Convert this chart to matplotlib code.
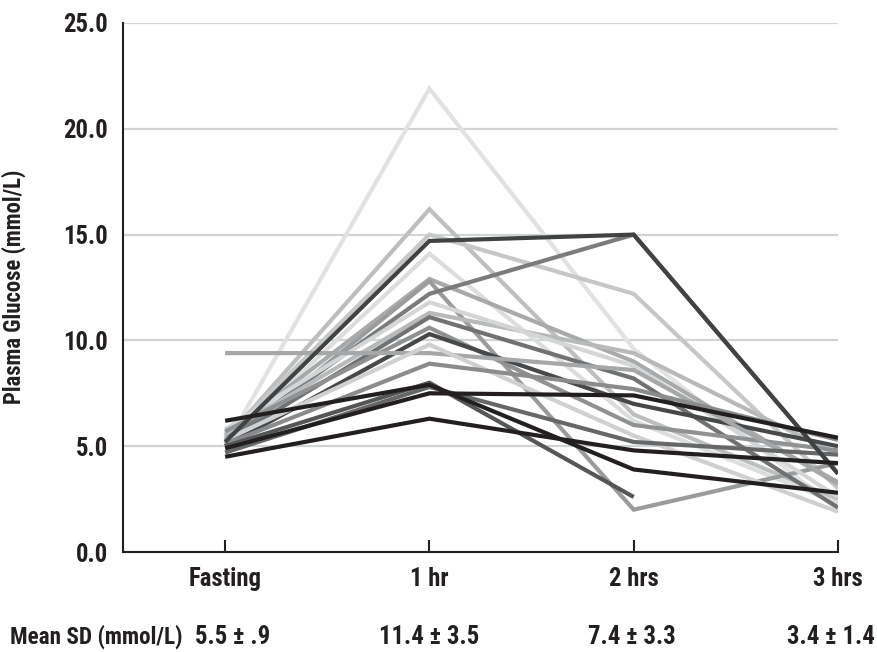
import matplotlib
matplotlib.use("Agg")
import matplotlib.pyplot as plt
from matplotlib import font_manager as fm
import numpy as np

categories = ["Fasting", "1 hr", "2 hrs", "3 hrs"]
summary_title = "Mean SD (mmol/L)"
summary_labels = ["5.5 \u00b1 .9", "11.4 \u00b1 3.5", "7.4 \u00b1 3.3", "3.4 \u00b1 1.4"]
y_ticks = [0.0, 5.0, 10.0, 15.0, 20.0, 25.0]
y_label = "Plasma Glucose (mmol/L)"

# individual subject curves (fasting, 1 hr, 2 hrs, 3 hrs)
s01 = [5.0, 21.9, 9.6, 2.0]
s02 = [5.3, 16.2, 6.5, 2.5]
s03 = [5.4, 15.0, 12.2, 3.0]
s04 = [5.1, 14.1, 6.2, 2.3]
s05 = [5.5, 12.9, 9.0, 3.2]
s06 = [5.0, 12.8, 2.0, 4.2]
s07 = [5.3, 12.2, 15.0, 3.7]
s08 = [5.6, 11.3, 9.4, 4.6]
s09 = [5.2, 11.1, 8.2, 2.1]
s10 = [5.8, 11.8, 8.8, 2.6]
s11 = [5.7, 10.6, 6.0, 4.8]
s12 = [5.0, 10.3, 7.0, 5.0]
s13 = [9.4, 9.4, 8.6, 3.3]
s14 = [5.3, 9.8, 5.5, 1.9]
s15 = [5.1, 8.9, 7.7, 5.3]
s16 = [4.7, 7.8, 5.2, 4.6]
s17 = [5.0, 8.0, 2.6, np.nan]
s18 = [5.2, 14.7, 15.0, 3.7]
s19 = [6.2, 7.9, 3.9, 2.8]
s20 = [4.9, 7.5, 7.4, 5.4]
s21 = [4.5, 6.3, 4.8, 4.2]

series = [s01, s02, s03, s04, s05, s06, s07, s08, s09, s10, s11,
          s12, s13, s14, s15, s16, s17, s18, s19, s20, s21]
colors = ["#e1e2e3", "#bdbebf", "#c6c7c8", "#dcdddd", "#a8a9aa", "#9a9b9c",
          "#7a7b7c", "#b8b9ba", "#707172", "#d4d5d6", "#909192", "#474849",
          "#a6a7a8", "#cfd0d1", "#8a8b8c", "#666768", "#555657", "#414244",
          "#231f20", "#231f20", "#231f20"]

TXT = "#231f20"

# ---- choose a condensed bold font if one is installed ----
def pick_font():
    best = None
    best_score = -1
    for f in fm.fontManager.ttflist:
        name = f.name
        st = f.stretch
        if isinstance(st, str):
            st_val = {'ultra-condensed': 100, 'extra-condensed': 200, 'condensed': 300,
                      'semi-condensed': 400, 'normal': 500}.get(st, 500)
        else:
            st_val = st
        cond = ('Condensed' in name or 'Narrow' in name or st_val < 500
                or 'Condensed' in f.fname or 'Narrow' in f.fname)
        if not cond:
            continue
        w = f.weight
        if isinstance(w, str):
            w = {'bold': 700, 'semibold': 600, 'demibold': 600, 'heavy': 800,
                 'black': 900, 'normal': 400, 'regular': 400, 'medium': 500}.get(w, 400)
        if 'Italic' in f.fname or 'Oblique' in f.fname or f.style != 'normal':
            continue
        score = 0
        if w >= 700:
            score += 10
        elif w >= 600:
            score += 6
        if 'Roboto' in name:
            score += 3
        if 'Liberation' in name:
            score += 2
        if score > best_score:
            best_score = score
            best = f
    return best

bf = pick_font()
if bf is not None:
    def FP(size):
        return fm.FontProperties(fname=bf.fname, size=size)
else:
    def FP(size):
        return fm.FontProperties(family='DejaVu Sans', weight='bold', stretch='condensed', size=size)

fig = plt.figure(figsize=(8.78, 6.52), dpi=100)
renderer = fig.canvas.get_renderer()

def fit_size(text, target_w, base=16, cap=20):
    t = fig.text(0, 0, text, fontproperties=FP(base))
    w = t.get_window_extent(renderer).width
    t.remove()
    return min(cap, base * target_w / w)

fs_title = fit_size(summary_title, 172)
fs_main = fs_title * 1.07
fs_ylab = fit_size(y_label, 235)

ax = fig.add_axes([123/878, 1-552/652, (838-123)/878, (552-23)/652])

x = np.arange(len(categories))
for s, c in zip(series, colors):
    ax.plot(x, s, color=c, lw=3.0, solid_joinstyle='miter', solid_capstyle='butt', zorder=3)

ax.set_xlim(-0.5, 3.0)
ax.set_ylim(0, 25)
ax.set_yticks(y_ticks)
ax.set_yticklabels([f"{v:.1f}" for v in y_ticks], fontproperties=FP(fs_main), color=TXT)
ax.yaxis.grid(True, color="#d1d3d4", lw=1.6, zorder=0)
ax.set_axisbelow(True)
ax.tick_params(axis='y', length=0, pad=11)

ax.set_xticks(x)
ax.set_xticklabels(categories, fontproperties=FP(fs_main), color=TXT)
ax.tick_params(axis='x', direction='in', length=9, width=1.5, color=TXT, pad=11)

for side in ['top', 'right']:
    ax.spines[side].set_visible(False)
for side in ['left', 'bottom']:
    ax.spines[side].set_color(TXT)
    ax.spines[side].set_linewidth(1.5)

ax.set_ylabel(y_label, fontproperties=FP(fs_ylab), color=TXT)
ax.yaxis.set_label_coords((26 - 123) / 715, (552 - 287) / 529)

# summary row
fig.text(10/878, 1-637/652, summary_title, fontproperties=FP(fs_title),
         color=TXT, ha='left', va='center')
sx = [233, 429, 632, 831]
for xp, lab in zip(sx, summary_labels):
    fig.text(xp/878, 1-637/652, lab, fontproperties=FP(fs_main),
             color=TXT, ha='center', va='center')

fig.savefig("out.png", dpi=100)
